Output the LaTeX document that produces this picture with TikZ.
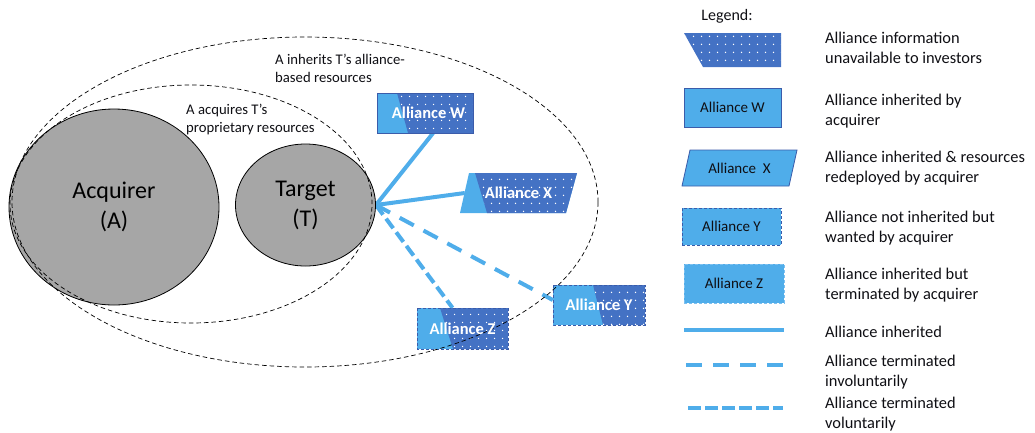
\documentclass[tikz,border=0pt]{standalone}
\usepackage{fontspec}
\setmainfont{Carlito}
\usetikzlibrary{shapes.geometric,patterns.meta,calc}
\definecolor{lblue}{RGB}{79,173,234}
\definecolor{dblue}{RGB}{68,114,196}
\definecolor{bord}{RGB}{59,92,170}
\definecolor{zbord}{RGB}{125,192,240}
\definecolor{gfill}{RGB}{166,166,166}
\definecolor{txt}{RGB}{15,15,20}
\tikzdeclarepattern{
  name=sdots,
  type=uncolored,
  bounding box={(0,0) and (7.5pt,7.5pt)},
  tile size={(7.5pt,7.5pt)},
  code={\fill (3.75pt,3.75pt) circle (0.75pt);}
}
\pgfdeclarelayer{linklayer}
\pgfdeclarelayer{shapelayer}
\pgfsetlayers{linklayer,shapelayer,main}
\tikzset{
  ring/.style={draw=black, dash pattern=on 4.5pt off 3pt, line width=0.7pt},
  firm/.style={ellipse, draw=black, line width=0.8pt, fill=gfill, align=center, text=black, inner sep=0pt, font=\fontsize{24}{30}\selectfont},
  boxtext/.style={font=\bfseries\fontsize{16.5}{18}\selectfont, text=white, inner sep=0pt},
  legbox/.style={font=\fontsize{15}{18}\selectfont, text=txt, inner sep=0pt},
  legtext/.style={anchor=west, align=left, font=\fontsize{16.4}{20}\selectfont, text=txt, inner sep=0pt},
  annot/.style={anchor=west, align=left, font=\fontsize{14.7}{17.5}\selectfont, text=txt, inner sep=0pt},
  link/.style={draw=lblue, line width=4pt},
  linkinv/.style={link, dash pattern=on 16pt off 11pt},
  linkvol/.style={link, dash pattern=on 12pt off 5pt},
  hidden/.style={fill=dblue, postaction={pattern=sdots, pattern color=white}},
  solidedge/.style={draw=bord, line width=0.8pt},
  dashedge/.style={draw=bord, line width=0.9pt, dash pattern=on 3pt off 2pt},
}
\begin{document}
\begin{tikzpicture}[x=1pt,y=-1pt]
\useasboundingbox (0,0) rectangle (1035,432);

% firms
\node[firm, minimum width=210, minimum height=196] (A) at (114,207) {Acquirer\\(A)};
\node[firm, minimum width=140, minimum height=122] (T) at (305.5,205) {Target\\(T)};

% scope rings
\draw[ring] (305,202) ellipse [x radius=293pt, y radius=165pt];
\draw[ring] (191,204) ellipse [x radius=181pt, y radius=119pt];

\node[annot] (inh) at (275,68.5) {A inherits T’s alliance-\\based resources};
\node[annot] (acq) at (186,119.5) {A acquires T’s\\proprietary resources};

% alliance labels (nodes)
\node[boxtext, minimum width=96, minimum height=40] (W) at (425,113) {\hspace{7pt}Alliance W};
\node[boxtext, minimum width=117, minimum height=40] (X) at (518.5,193) {Alliance X\hspace{12pt}};
\node[boxtext, minimum width=92, minimum height=40] (Y) at (599,305) {Alliance Y\hspace{6pt}};
\node[boxtext, minimum width=91, minimum height=41] (Z) at (462.5,328.5) {Alliance Z};

% alliance shapes
\begin{pgfonlayer}{shapelayer}
  % W
  \fill[lblue] (377,93) rectangle (473,133);
  \path[hidden] (397,93) -- (473,93) -- (473,133) -- (408,133) -- cycle;
  \draw[solidedge] (377,93) rectangle (473,133);
  % X
  \fill[lblue] (469,173) -- (577,173) -- (566,213) -- (460,213) -- cycle;
  \path[hidden] (475,173) -- (577,173) -- (566,213) -- (487,213) -- cycle;
  % Y
  \fill[lblue] (553,285) rectangle (645,325);
  \path[hidden] (593,285) -- (645,285) -- (645,325) -- (603,325) -- cycle;
  \draw[dashedge] (553,285) rectangle (645,325);
  % Z
  \fill[lblue] (417,308) rectangle (508,349);
  \path[hidden] (440,308) -- (508,308) -- (508,349) -- (453,349) -- cycle;
  \draw[dashedge] (417,308) rectangle (508,349);
\end{pgfonlayer}

% links
\begin{pgfonlayer}{linklayer}
  \draw[link] (T.east) -- ([xshift=8pt]W.south);
  \draw[link] (T.east) -- ([xshift=5pt]X.west);
  \draw[linkinv] (T.east) -- ([yshift=5pt]Y.west);
  \draw[linkvol] (T.east) -- ([xshift=-10pt]Z.north);
\end{pgfonlayer}

% legend
\node[font=\fontsize{16}{19}\selectfont, text=txt, inner sep=0pt] (leg) at (727,16) {Legend:};

\path[hidden] (684,33) -- (781,33) -- (781,67) -- (703,67) -- cycle;
\node[legtext] (t1) at (825,48) {Alliance information\\unavailable to investors};

\node[legbox, fill=lblue, solidedge, minimum width=97, minimum height=39] (lW) at (732.5,107.5) {Alliance W};
\node[legtext] (t2) at (825,111) {Alliance inherited by\\acquirer};

\filldraw[fill=lblue, solidedge] (690,150) -- (797,150) -- (789,186) -- (682,186) -- cycle;
\node[legbox] (lX) at (739.5,168) {Alliance\ \ X};
\node[legtext] (t3) at (825,168) {Alliance inherited \& resources\\redeployed by acquirer};

\node[legbox, fill=lblue, dashedge, minimum width=99, minimum height=37] (lY) at (731.5,226.5) {Alliance Y};
\node[legtext] (t4) at (825,228) {Alliance not inherited but\\wanted by acquirer};

\node[legbox, fill=lblue, dashedge, draw=zbord, minimum width=100, minimum height=39] (lZ) at (734,283.5) {Alliance Z};
\node[legtext] (t5) at (825,285) {Alliance inherited but\\terminated by acquirer};

\coordinate (s1) at (684,330); \coordinate (s2) at (784,330);
\draw[link] (s1) -- (s2);
\node[legtext] (t6) at (825,332) {Alliance inherited};

\coordinate (i1) at (686,365); \coordinate (i2) at (783,365);
\draw[linkinv] (i1) -- (i2);
\node[legtext] (t7) at (825,372) {Alliance terminated\\involuntarily};

\coordinate (v1) at (688,408); \coordinate (v2) at (783,408);
\draw[link, dash pattern=on 13pt off 4pt] (v1) -- (v2);
\node[legtext] (t8) at (825,414) {Alliance terminated\\voluntarily};
\end{tikzpicture}
\end{document}
